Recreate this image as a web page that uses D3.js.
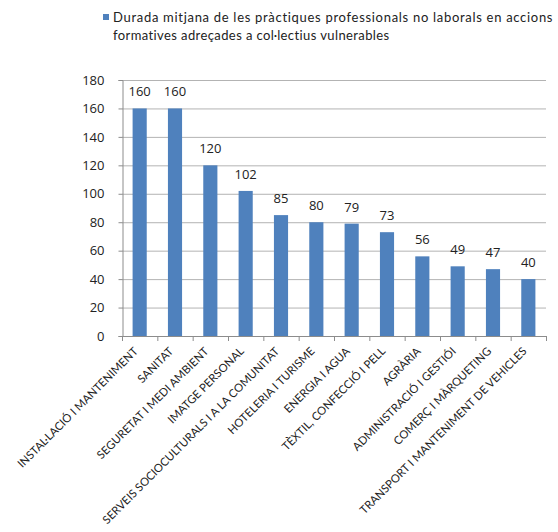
<!DOCTYPE html>
<html lang="ca">
<head>
<meta charset="UTF-8">
<title>Durada mitjana de les pràctiques</title>
<style>
  body { margin: 0; background: #fff; }
  svg { display: block; font-family: Lato, "Open Sans", sans-serif; }
</style>
</head>
<body>
<script src="https://cdn.jsdelivr.net/npm/d3@7"></script>
<script>
const categories = [
    "INSTAL·LACIÓ I MANTENIMENT",
    "SANITAT",
    "SEGURETAT I MEDI AMBIENT",
    "IMATGE PERSONAL",
    "SERVEIS SOCIOCULTURALS I A LA COMUNITAT",
    "HOTELERIA I TURISME",
    "ENERGIA I AGUA",
    "TÈXTIL, CONFECCIÓ I PELL",
    "AGRÀRIA",
    "ADMINISTRACIÓ I GESTIÓI",
    "COMERÇ I MÀRQUETING",
    "TRANSPORT I MANTENIMENT DE VEHICLES"
];
const values = [160, 160, 120, 102, 85, 80, 79, 73, 56, 49, 47, 40];
const yTicks = [0, 20, 40, 60, 80, 100, 120, 140, 160, 180];
const legendLines = [
    "Durada mitjana de les pràctiques professionals no laborals en accions",
    "formatives adreçades a col·lectius vulnerables"
];

const width = 558, height = 532;
const plot = { left: 122, right: 546, top: 80, bottom: 336 };
const barColor = '#4f81bd';

const svg = d3.select('body').append('svg')
    .attr('width', width).attr('height', height);

const x = d3.scaleBand()
    .domain(categories)
    .range([plot.left, plot.right])
    .paddingInner(0.6)
    .paddingOuter(0.3);

const y = d3.scaleLinear()
    .domain([0, 180])
    .range([plot.bottom, plot.top]);

// gridlines
svg.append('g')
    .selectAll('line')
    .data(yTicks.filter(d => d > 0))
    .enter().append('line')
    .attr('x1', plot.left).attr('x2', plot.right)
    .attr('y1', d => y(d) + 0.5).attr('y2', d => y(d) + 0.5)
    .attr('stroke', '#b3b3b3')
    .attr('stroke-width', 1);

// y axis
const yAxis = svg.append('g')
    .attr('transform', `translate(${plot.left + 0.5},0)`)
    .call(d3.axisLeft(y).tickValues(yTicks).tickSize(4).tickPadding(14));
yAxis.select('.domain').attr('stroke', '#8c8c8c');
yAxis.selectAll('.tick line').attr('stroke', '#8c8c8c');
yAxis.selectAll('.tick text')
    .attr('font-size', 13)
    .attr('font-family', '"Open Sans", sans-serif')
    .attr('fill', '#222');

// bars
svg.append('g')
    .selectAll('rect')
    .data(values)
    .enter().append('rect')
    .attr('x', (d, i) => x(categories[i]))
    .attr('y', d => y(d))
    .attr('width', x.bandwidth())
    .attr('height', d => plot.bottom - y(d))
    .attr('fill', barColor);

// value labels
svg.append('g')
    .selectAll('text')
    .data(values)
    .enter().append('text')
    .attr('x', (d, i) => x(categories[i]) + x.bandwidth() / 2)
    .attr('y', d => y(d) - 12)
    .attr('text-anchor', 'middle')
    .attr('font-size', 13)
    .attr('font-family', '"Open Sans", sans-serif')
    .attr('fill', '#222')
    .text(d => d);

// x axis baseline + ticks between categories
const xg = svg.append('g');
xg.append('line')
    .attr('x1', plot.left).attr('x2', plot.right)
    .attr('y1', plot.bottom + 0.5).attr('y2', plot.bottom + 0.5)
    .attr('stroke', '#8c8c8c');
xg.selectAll('line.tk')
    .data(d3.range(categories.length + 1))
    .enter().append('line')
    .attr('class', 'tk')
    .attr('x1', i => plot.left + i * (plot.right - plot.left) / categories.length + 0.5)
    .attr('x2', i => plot.left + i * (plot.right - plot.left) / categories.length + 0.5)
    .attr('y1', plot.bottom).attr('y2', plot.bottom + 5)
    .attr('stroke', '#8c8c8c');

// category labels
xg.selectAll('text')
    .data(categories)
    .enter().append('text')
    .attr('transform', d => `translate(${x(d) + x.bandwidth() / 2 - 1},${plot.bottom + 16}) rotate(-45)`)
    .attr('text-anchor', 'end')
    .attr('font-size', 11.3)
    .attr('fill', '#222')
    .text(d => d);

// legend
const legend = svg.append('g');
legend.append('rect')
    .attr('x', 103).attr('y', 14)
    .attr('width', 6).attr('height', 6)
    .attr('fill', barColor);
legend.selectAll('text')
    .data(legendLines)
    .enter().append('text')
    .attr('x', 113)
    .attr('y', (d, i) => 22 + i * 18)
    .attr('font-size', 13)
    .attr('letter-spacing', (d, i) => i === 0 ? 0.7 : 0.4)
    .attr('fill', '#222')
    .text(d => d);
</script>
</body>
</html>
